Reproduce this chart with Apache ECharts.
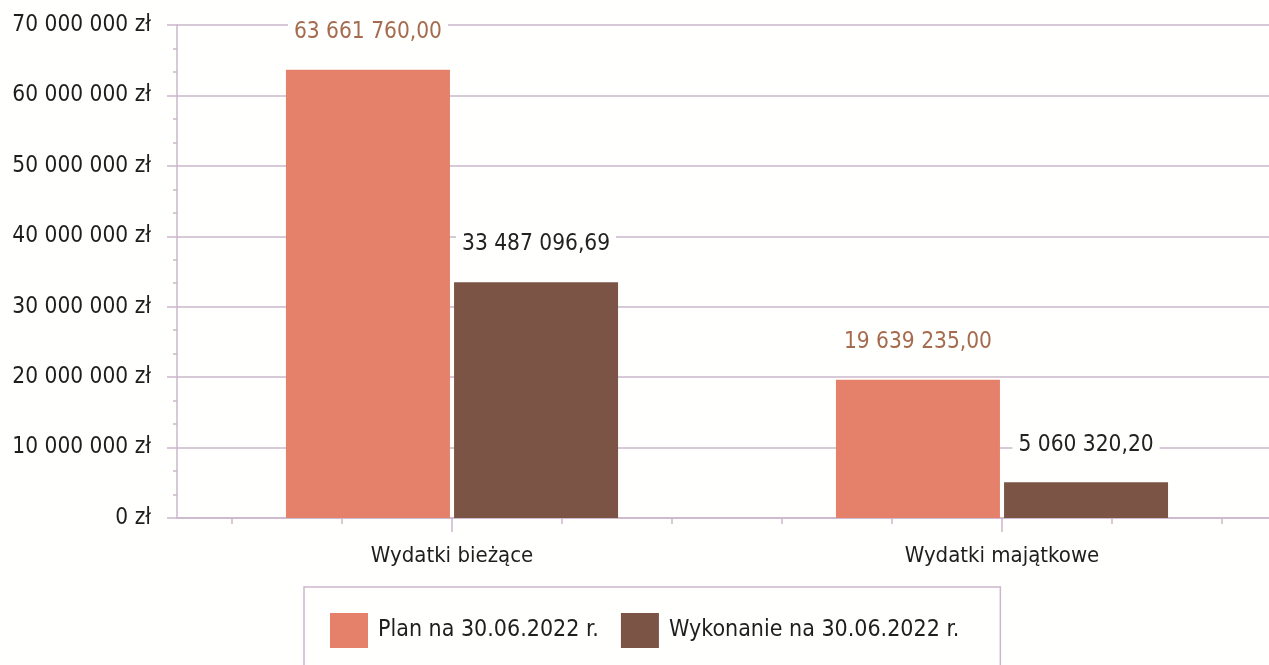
<!DOCTYPE html>
<html>
<head>
<meta charset="utf-8">
<script src="https://cdn.jsdelivr.net/npm/echarts@6/dist/echarts.min.js"></script>
<style>
  html, body { margin: 0; padding: 0; background: #fffffd; overflow: hidden; }
  #chart { width: 1280px; height: 665px; }
</style>
</head>
<body>
<div id="chart"></div>
<script>
// dane wykresu
const categories = ['Wydatki bieżące', 'Wydatki majątkowe']
const planValues = [63661760.00, 19639235.00]
const wykonanieValues = [33487096.69, 5060320.20]
const seriesNames = ['Plan na 30.06.2022 r.', 'Wykonanie na 30.06.2022 r.']
const yTicks = [0, 10000000, 20000000, 30000000, 40000000, 50000000, 60000000, 70000000]
// puste miejsca na drobne znaczniki osi X
const minorTickSlots = ['', '', '', '', '', '', '', '', '', '']

const FONT = 'DejaVu Sans Condensed'
const GRID_COLOR = '#cbb7cb'

const groupThousands = n => String(n).replace(/\B(?=(\d{3})+(?!\d))/g, ' ')

const moneyLabel = v => {
  const parts = v.toFixed(2).split('.')
  return groupThousands(parts[0]) + ',' + parts[1]
}

const chart = echarts.init(document.getElementById('chart'))

const barLabel = color => ({
  show: true,
  position: 'top',
  distance: 24,
  padding: [2, 6],
  backgroundColor: '#fffffd',
  fontFamily: FONT,
  fontSize: 22.5,
  color: color,
  formatter: p => moneyLabel(p.value)
})

const option = {
  backgroundColor: '#fffffd',
  animation: false,
  textStyle: { fontFamily: FONT },
  grid: { left: 177, right: 3, top: 25, bottom: 147, containLabel: false },
  legend: {
    data: seriesNames,
    left: 304,
    top: 587,
    icon: 'rect',
    itemWidth: 38,
    itemHeight: 35,
    itemGap: 22,
    padding: [26, 41, 30, 26],
    borderColor: GRID_COLOR,
    borderWidth: 1.5,
    textStyle: { fontFamily: FONT, fontSize: 23, color: '#1e1e1e', padding: [0, 0, 0, 5] }
  },
  xAxis: [{
    type: 'category',
    data: categories,
    axisLine: { show: true, lineStyle: { color: GRID_COLOR, width: 1.5 } },
    axisTick: { show: true, alignWithLabel: true, interval: 0, length: 14, lineStyle: { color: GRID_COLOR, width: 1.5 } },
    axisLabel: { margin: 27, interval: 0, fontFamily: FONT, fontSize: 22, color: '#1e1e1e' }
  }, {
    type: 'category',
    data: minorTickSlots,
    position: 'bottom',
    axisLine: { show: false },
    axisTick: { show: true, alignWithLabel: true, interval: 0, length: 6, lineStyle: { color: GRID_COLOR, width: 1.5 } },
    axisLabel: { show: false },
    splitLine: { show: false }
  }],
  yAxis: {
    type: 'value',
    min: yTicks[0],
    max: yTicks[yTicks.length - 1],
    interval: 10000000,
    axisLine: { show: true, lineStyle: { color: GRID_COLOR, width: 1.5 } },
    axisTick: { show: true, length: 10, lineStyle: { color: GRID_COLOR, width: 1.5 } },
    minorTick: { show: true, splitNumber: 3, length: 4, lineStyle: { color: GRID_COLOR, width: 1.5 } },
    splitLine: { lineStyle: { color: GRID_COLOR, width: 1.5 } },
    axisLabel: {
      margin: 26,
      fontFamily: FONT,
      fontSize: 22.5,
      color: '#1e1e1e',
      formatter: v => groupThousands(v) + ' zł'
    }
  },
  series: [{
    name: seriesNames[0],
    type: 'bar',
    data: planValues,
    barWidth: 164,
    barGap: '2.5%',
    itemStyle: { color: '#e5806a' },
    label: barLabel('#a56b4f')
  }, {
    name: seriesNames[1],
    type: 'bar',
    data: wykonanieValues,
    barWidth: 164,
    barGap: '2.5%',
    itemStyle: { color: '#7b5446' },
    label: barLabel('#222222')
  }]
}

chart.setOption(option)
</script>
</body>
</html>
